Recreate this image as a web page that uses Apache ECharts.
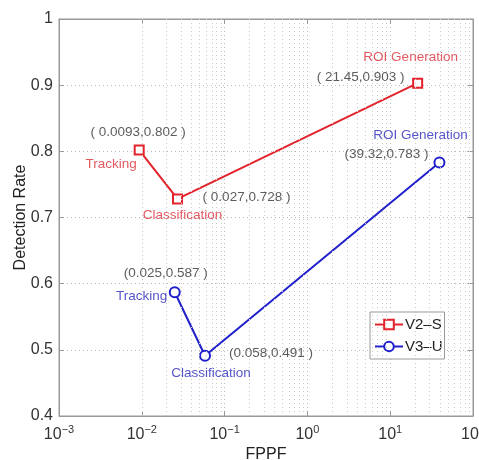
<!DOCTYPE html>
<html><head><meta charset="utf-8">
<script src="https://cdn.jsdelivr.net/npm/echarts@6/dist/echarts.min.js"></script>
<style>html,body{margin:0;padding:0;background:#fff}#c{width:479px;height:460px}</style>
</head><body><div id="c"></div>
<script>
// ---- data ----
const stageNames = ['Tracking', 'Classification', 'ROI Generation'];
const v2sX = [0.0093, 0.027, 21.45];
const v2sY = [0.802, 0.728, 0.903];
const v3uX = [0.025, 0.058, 39.32];
const v3uY = [0.587, 0.491, 0.783];
const v2sCoordText = ['( 0.0093,0.802 )', '( 0.027,0.728 )', '( 21.45,0.903 )'];
const v3uCoordText = ['(0.025,0.587 )', '(0.058,0.491 )', '(39.32,0.783 )'];
const yTicks = [0.4, 0.5, 0.6, 0.7, 0.8, 0.9, 1];

// ---- label placement (pixel offsets from each marker) ----
const v2sNameOff = [[-28, 14], [5, 16], [-7, -26]];
const v2sCoordOff = [[-1, -18], [69, -2], [-57, -6]];
const v3uNameOff = [[-33, 4], [6, 17], [-19, -27]];
const v3uCoordOff = [[-9, -19], [66, -3], [-53, -8]];

const RED = '#e3222b', BLUE = '#1f1fcc';
const RED_T = '#dc2f3a', BLUE_T = '#2b2bbd', TXT = '#333';
const FONT = '"Liberation Sans", Arial, sans-serif';

function pts(xs, ys) { return xs.map((x, i) => [x, ys[i]]); }

function labelSeries(xs, ys, texts, offs, color) {
  return {
    type: 'scatter', symbol: 'circle', symbolSize: 1, silent: true, z: 5,
    itemStyle: { color: 'rgba(0,0,0,0)' },
    data: xs.map((x, i) => ({
      value: [x, ys[i]],
      label: {
        show: true, position: 'inside', align: 'center', verticalAlign: 'middle',
        offset: offs[i], formatter: texts[i], color: color,
        fontSize: 13.5, fontFamily: FONT
      }
    }))
  };
}

// minor log grid positions
const minorVals = [];
for (let d = -3; d < 2; d++) for (let k = 2; k <= 9; k++) minorVals.push(k * Math.pow(10, d));

const sup = v => {
  const e = Math.round(Math.log10(v));
  return '{b|10}{s|' + (e < 0 ? '\u2212' + (-e) : e) + '}';
};

const chart = echarts.init(document.getElementById('c'));
chart.setOption({
  animation: false,
  backgroundColor: '#fff',
  textStyle: { fontFamily: FONT },
  grid: { left: 59, right: 6, top: 19, bottom: 44, outerBoundsMode: 'none', containLabel: false,
    show: true, borderColor: '#999', borderWidth: 1, backgroundColor: 'transparent' },
  legend: {
    orient: 'vertical', left: 370, top: 312, data: ['V2\u2013S', 'V3\u2013U'],
    backgroundColor: '#fff', borderColor: '#999', borderWidth: 1,
    padding: [5, 2, 5, 4], itemGap: 7, itemWidth: 28, itemHeight: 12,
    textStyle: { fontSize: 15, color: '#222', fontFamily: FONT, padding: [0, 0, 0, -3] }
  },
  xAxis: [{
    type: 'log', logBase: 10, min: 0.001, max: 100,
    name: 'FPPF', nameLocation: 'middle', nameGap: 31, nameMoveOverlap: false,
    nameTextStyle: { fontSize: 16, color: '#222', fontFamily: FONT },
    axisLine: { show: true, lineStyle: { color: '#999' } },
    axisTick: { show: true, inside: true, length: 5, lineStyle: { color: '#999' } },
    axisLabel: {
      margin: 8, formatter: sup, color: TXT,
      rich: {
        b: { fontSize: 16, fontFamily: FONT, color: TXT },
        s: { fontSize: 11, fontFamily: FONT, color: TXT, padding: [0, 0, 10, 0] }
      }
    },
    splitLine: { show: true, lineStyle: { color: '#bbb', type: [1, 3] } }
  }, {
    type: 'log', logBase: 10, min: 0.001, max: 100, position: 'top',
    axisLine: { show: true, lineStyle: { color: '#999' } },
    axisTick: { show: true, inside: true, length: 5, lineStyle: { color: '#999' } },
    axisLabel: { show: false }, splitLine: { show: false }
  }],
  yAxis: [{
    type: 'value', min: 0.4, max: 1, interval: 0.1,
    name: 'Detection Rate', nameLocation: 'middle', nameGap: 30, nameMoveOverlap: false,
    nameTextStyle: { fontSize: 16, color: '#222', fontFamily: FONT },
    axisLine: { show: true, lineStyle: { color: '#999' } },
    axisTick: { show: true, inside: true, length: 5, lineStyle: { color: '#999' } },
    axisLabel: { margin: 6, fontSize: 16, color: TXT, fontFamily: FONT,
      formatter: v => { const t = yTicks.find(a => Math.abs(a - v) < 1e-9); return t === undefined ? '' : String(t); } },
    splitLine: { show: true, lineStyle: { color: '#bbb', type: [1, 3] } }
  }, {
    type: 'value', min: 0.4, max: 1, interval: 0.1, position: 'right',
    axisLine: { show: true, lineStyle: { color: '#999' } },
    axisTick: { show: true, inside: true, length: 5, lineStyle: { color: '#999' } },
    axisLabel: { show: false }, splitLine: { show: false }
  }],
  series: [
    {
      name: 'grid', type: 'line', data: [], silent: true, z: 1,
      markLine: {
        silent: true, symbol: 'none', label: { show: false },
        lineStyle: { color: '#cacaca', type: [1, 3], width: 1 },
        data: minorVals.map(v => ({ xAxis: v }))
      }
    },
    {
      name: 'V2\u2013S', type: 'line', data: pts(v2sX, v2sY), z: 3,
      symbol: 'rect', symbolSize: 9, showAllSymbol: true,
      lineStyle: { color: RED, width: 2 },
      itemStyle: { color: '#fff', borderColor: RED, borderWidth: 2 }
    },
    {
      name: 'V3\u2013U', type: 'line', data: pts(v3uX, v3uY), z: 3,
      symbol: 'circle', symbolSize: 10, showAllSymbol: true,
      lineStyle: { color: BLUE, width: 2 },
      itemStyle: { color: '#fff', borderColor: BLUE, borderWidth: 2 }
    },
    labelSeries(v2sX, v2sY, stageNames, v2sNameOff, RED_T),
    labelSeries(v2sX, v2sY, v2sCoordText, v2sCoordOff, TXT),
    labelSeries(v3uX, v3uY, stageNames, v3uNameOff, BLUE_T),
    labelSeries(v3uX, v3uY, v3uCoordText, v3uCoordOff, TXT)
  ]
});
</script></body></html>
